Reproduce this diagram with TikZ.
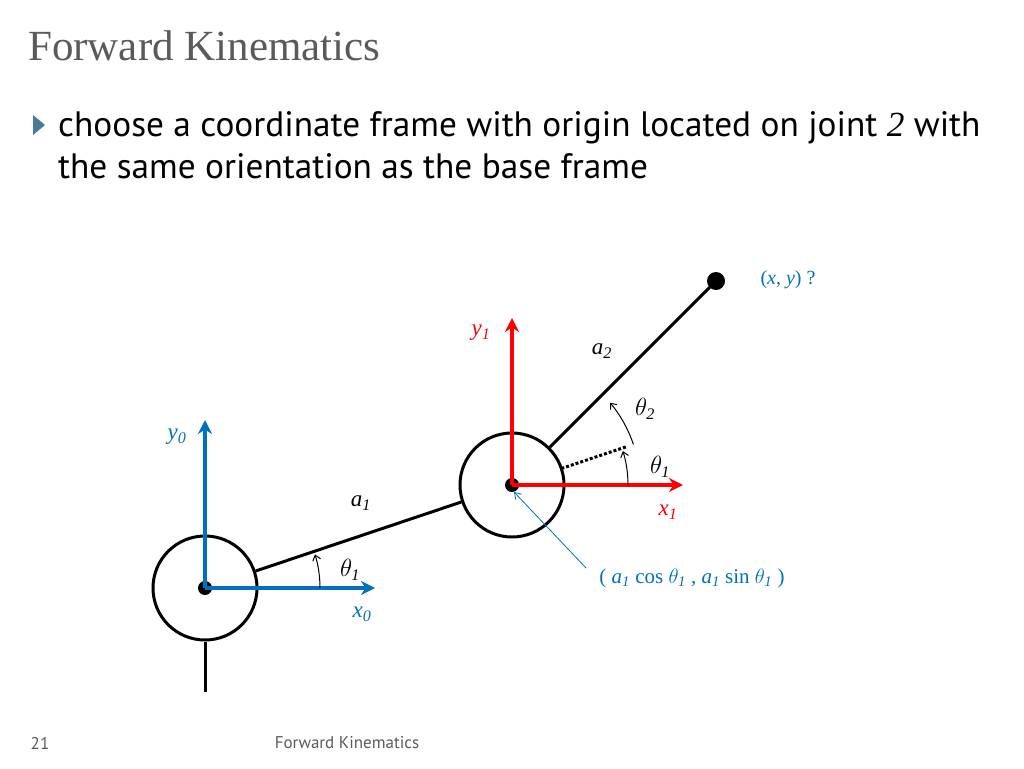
\documentclass[tikz,border=0pt]{standalone}
\usepackage{fontspec}
\setmainfont{Liberation Serif}
\newfontfamily\gillfont{PT Sans}
\usetikzlibrary{arrows.meta,calc,positioning}
\definecolor{frameblue}{RGB}{0,112,192}
\definecolor{titlegray}{RGB}{90,90,90}
\begin{document}
\begin{tikzpicture}[x=1pt,y=-1pt]
	\tikzstyle{every node}=[font=\fontsize{23}{27}\selectfont]
	\tikzset{
		link/.style={line width=3pt},
		joint/.style={circle, draw, line width=3pt, minimum size=104pt, inner sep=0pt},
		axis/.style={line width=3.5pt, -{Stealth[length=14pt,width=14pt]}},
		angarc/.style={line width=1pt, -{Straight Barb[length=5pt,width=8pt]}},
		lbl/.style={font=\fontsize{23}{27}\selectfont\itshape}
	}
	\useasboundingbox (0,0) rectangle (1024,768);
	% header
	\node [anchor=base west, inner sep=0pt, text=titlegray, font=\fontsize{43}{50}\selectfont] (title) at (28,60) {Forward Kinematics};
	\fill [frameblue!40!gray] (33,115) -- (45,125) -- (33,135) -- cycle;
	\node [anchor=base west, inner sep=0pt, font=\gillfont\fontsize{35.3}{42}\selectfont] (line1) at (58,136)
		{choose a coordinate frame with origin located on joint {\rmfamily\itshape 2} with};
	\node [anchor=base west, inner sep=0pt, font=\gillfont\fontsize{35.3}{42}\selectfont] (line2) at (58,178)
		{the same orientation as the base frame};
	% joints
	\coordinate (o0) at (205,588);
	\coordinate (o1) at (512,485);
	\coordinate (tip) at (716,281);
	\node [joint] (j0) at (o0) {};
	\node [joint] (j1) at (o1) {};
	\draw [link] (j0.south) -- ++(0,50);
	\draw [link] (j0) -- (j1);
	\draw [link] (j1) -- (tip);
	\fill (o0) circle (7pt);
	\fill (o1) circle (7pt);
	\fill (tip) circle (9pt);
	\draw [line width=3pt, dotted] ($(o1)+(-18.5:52)$) -- ++(-18.5:70);
	% frames
	\draw [axis, frameblue] (o0) -- ++(0,-168) coordinate (y0);
	\draw [axis, frameblue] (o0) -- ++(170,0) coordinate (x0);
	\draw [axis, red] (o1) -- ++(0,-167) coordinate (y1);
	\draw [axis, red] (o1) -- ++(171,0) coordinate (x1);
	% angles
	\draw [angarc] ($(o0)+(115,0)$) arc[start angle=0, end angle=-17, radius=115];
	\draw [angarc] ($(o1)+(116,0)$) arc[start angle=0, end angle=-17, radius=116];
	\draw [angarc] ($(o1)+(-18.5:128)$) arc[start angle=-18.5, end angle=-40, radius=128];
	% labels
	\node [lbl, text=frameblue] (ly0) at (177,437) {y\textsubscript{0}};
	\node [lbl, text=frameblue] (lx0) at (362,614) {x\textsubscript{0}};
	\node [lbl, text=red] (ly1) at (481,333) {y\textsubscript{1}};
	\node [lbl, text=red] (lx1) at (668,512) {x\textsubscript{1}};
	\node [lbl] (la1) at (361,503) {a\textsubscript{1}};
	\node [lbl] (la2) at (602,351) {a\textsubscript{2}};
	\node [lbl] (lt0) at (350,570) {$\theta_{\mathit{1}}$};
	\node [lbl] (lt1) at (660,467) {$\theta_{\mathit{1}}$};
	\node [lbl] (lt2) at (645,409) {$\theta_{\mathit{2}}$};
	\node [text=frameblue, font=\fontsize{20}{24}\selectfont] (lxy) at (788,280) {(\textit{x}, \textit{y}) ?};
	\node [text=frameblue, font=\fontsize{21}{25}\selectfont] (lpos) at (692,578)
		{( \textit{a}\textsubscript{\itshape 1} cos $\theta_{\mathit{1}}$ , \textit{a}\textsubscript{\itshape 1} sin $\theta_{\mathit{1}}$ )};
	\draw [frameblue, line width=0.8pt, -{Straight Barb[length=6pt,width=8pt]}] (586,568) -- ($(o1)+(2,7)$);
	% footer
	\node [font=\gillfont\fontsize{17}{20}\selectfont, text=titlegray] (page) at (40,743) {21};
	\node [font=\gillfont\fontsize{17}{20}\selectfont, text=titlegray] (foot) at (347,743) {Forward Kinematics};
\end{tikzpicture}
\end{document}
